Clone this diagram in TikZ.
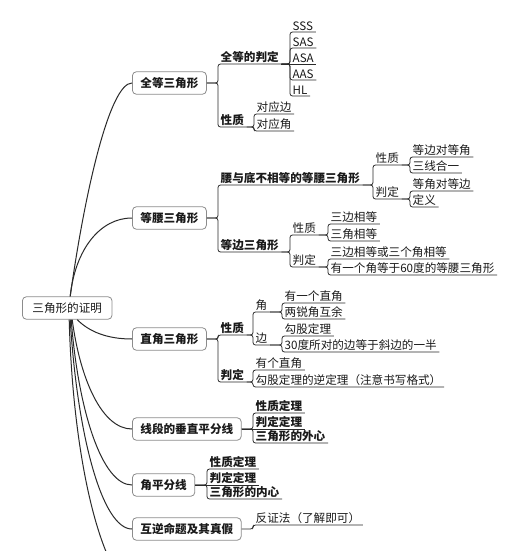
\documentclass[tikz,border=0pt]{standalone}
\usepackage{fontspec}
\setmainfont{Noto Sans CJK SC}
\definecolor{txt}{HTML}{1A1A1A}
\definecolor{linec}{HTML}{2A2A2A}
\definecolor{boxc}{HTML}{8C8C8C}
\newcommand\brconn[2]{\draw[conn] (#1) -- (#2.south west |- #1) |- (#2.south east);}
\newcommand\stconn[2]{\draw[conn] (#1) -- (#2.south east);}
\tikzset{
  basefont/.style={font=\fontsize{11.6}{13}\selectfont},
  topic/.style={basefont, anchor=south west, inner xsep=2.5pt, inner ysep=1pt, text=txt},
  btopic/.style={topic, font=\fontsize{11.6}{13}\selectfont\bfseries},
  box/.style={draw=boxc, line width=0.8pt, rounded corners=4pt, fill=white, inner xsep=8pt,
    minimum height=22.5pt, anchor=west, text=txt, font=\fontsize{11.6}{13}\selectfont\bfseries},
  rootbox/.style={box, inner xsep=10pt, font=\fontsize{11.6}{13}\selectfont},
  conn/.style={draw=linec, line width=0.8pt, rounded corners=2.5pt},
  curve/.style={draw=linec, line width=1pt},
}
\begin{document}
\begin{tikzpicture}[x=1pt,y=-1pt]
\useasboundingbox (0,0) rectangle (520,551);
\fill[white] (0,0) rectangle (520,551);

% root and level-1 boxes
\node[rootbox] (root) at (22,308) {三角形的证明};
\node[box] (b1) at (132,83) {全等三角形};
\node[box] (b2) at (132,218) {等腰三角形};
\node[box] (b3) at (132,339) {直角三角形};
\node[box] (b4) at (132,429) {线段的垂直平分线};
\node[box] (b5) at (132,485) {角平分线};
\node[box] (b6) at (132,529) {互逆命题及其真假};
\coordinate (offb) at (150,600);

% curves from root
\draw[curve] ([xshift=3pt]root.north) .. controls +(15,-107) and +(-22,0) .. (b1.west);
\draw[curve] ([xshift=3pt]root.north) .. controls +(5,-47) and +(-32,0) .. (b2.west);
\draw[curve] ([xshift=10pt]root.south) .. controls +(12,12) and +(-25,0) .. (b3.west);
\draw[curve] ([xshift=5pt]root.south) .. controls +(8,60) and +(-30,0) .. (b4.west);
\draw[curve] ([xshift=4pt]root.south) .. controls +(7,91) and +(-30,0) .. (b5.west);
\draw[curve] ([xshift=3pt]root.south) .. controls +(7,115) and +(-30,0) .. (b6.west);
\begin{scope}
\clip (0,0) rectangle (520,551);
\draw[curve] ([xshift=2pt]root.south) .. controls +(4,150) and +(-45,0) .. (offb);
\end{scope}

% 全等三角形
\node[btopic] (a1) at (218,64) {全等的判定};
\node[topic] (a1a) at (290,32) {SSS};
\node[topic] (a1b) at (290,48) {SAS};
\node[topic] (a1c) at (290,64) {ASA};
\node[topic] (a1d) at (290,80) {AAS};
\node[topic] (a1e) at (290,96) {HL};
\node[btopic] (a2) at (218,127) {性质};
\node[topic] (a2a) at (254,114) {对应边};
\node[topic] (a2b) at (254,131) {对应角};
\brconn{b1.east}{a1}
\brconn{b1.east}{a2}
\brconn{a1.south east}{a1a}
\brconn{a1.south east}{a1b}
\stconn{a1.south east}{a1c}
\brconn{a1.south east}{a1d}
\brconn{a1.south east}{a1e}
\brconn{a2.south east}{a2a}
\brconn{a2.south east}{a2b}

% 等腰三角形
\node[btopic] (c1) at (218,185) {腰与底不相等的等腰三角形};
\node[topic] (c1a) at (373,165) {性质};
\node[topic] (c1b) at (373,199) {判定};
\node[topic] (c1a1) at (410,157) {等边对等角};
\node[topic] (c1a2) at (410,173) {三线合一};
\node[topic] (c1b1) at (410,191) {等角对等边};
\node[topic] (c1b2) at (410,207) {定义};
\node[btopic] (c2) at (218,252) {等边三角形};
\node[topic] (c2a) at (290,235) {性质};
\node[topic] (c2b) at (290,267) {判定};
\node[topic] (c2a1) at (328,224) {三边相等};
\node[topic] (c2a2) at (328,241) {三角相等};
\node[topic] (c2b1) at (328,259) {三边相等或三个角相等};
\node[topic] (c2b2) at (328,275) {有一个角等于60度的等腰三角形};
\brconn{b2.east}{c1}
\brconn{b2.east}{c2}
\brconn{c1.south east}{c1a}
\brconn{c1.south east}{c1b}
\brconn{c1a.south east}{c1a1}
\brconn{c1a.south east}{c1a2}
\brconn{c1b.south east}{c1b1}
\brconn{c1b.south east}{c1b2}
\brconn{c2.south east}{c2a}
\brconn{c2.south east}{c2b}
\brconn{c2a.south east}{c2a1}
\brconn{c2a.south east}{c2a2}
\brconn{c2b.south east}{c2b1}
\brconn{c2b.south east}{c2b2}

% 直角三角形
\node[btopic] (d1) at (218,335) {性质};
\node[btopic] (d2) at (218,382) {判定};
\node[topic] (d1a) at (253,312) {角};
\node[topic] (d1b) at (253,345) {边};
\node[topic] (d1a1) at (282,303) {有一个直角};
\node[topic] (d1a2) at (282,319) {两锐角互余};
\node[topic] (d1b1) at (282,336) {勾股定理};
\node[topic] (d1b2) at (282,352) {30度所对的边等于斜边的一半};
\node[topic] (d2a) at (253,370) {有个直角};
\node[topic] (d2b) at (253,387) {勾股定理的逆定理（注意书写格式）};
\brconn{b3.east}{d1}
\brconn{b3.east}{d2}
\brconn{d1.south east}{d1a}
\brconn{d1.south east}{d1b}
\brconn{d1a.south east}{d1a1}
\brconn{d1a.south east}{d1a2}
\brconn{d1b.south east}{d1b1}
\brconn{d1b.south east}{d1b2}
\brconn{d2.south east}{d2a}
\brconn{d2.south east}{d2b}

% 线段的垂直平分线
\node[btopic] (e1) at (253,413) {性质定理};
\node[btopic] (e2) at (253,429) {判定定理};
\node[btopic] (e3) at (253,443) {三角形的外心};
\brconn{b4.east}{e1}
\stconn{b4.east}{e2}
\brconn{b4.east}{e3}

% 角平分线
\node[btopic] (f1) at (207,469) {性质定理};
\node[btopic] (f2) at (207,485) {判定定理};
\node[btopic] (f3) at (207,499) {三角形的内心};
\brconn{b5.east}{f1}
\stconn{b5.east}{f2}
\brconn{b5.east}{f3}

% 互逆命题及其真假
\node[topic] (g1) at (253,525) {反证法（了解即可）};
\brconn{b6.east}{g1}
\end{tikzpicture}
\end{document}
